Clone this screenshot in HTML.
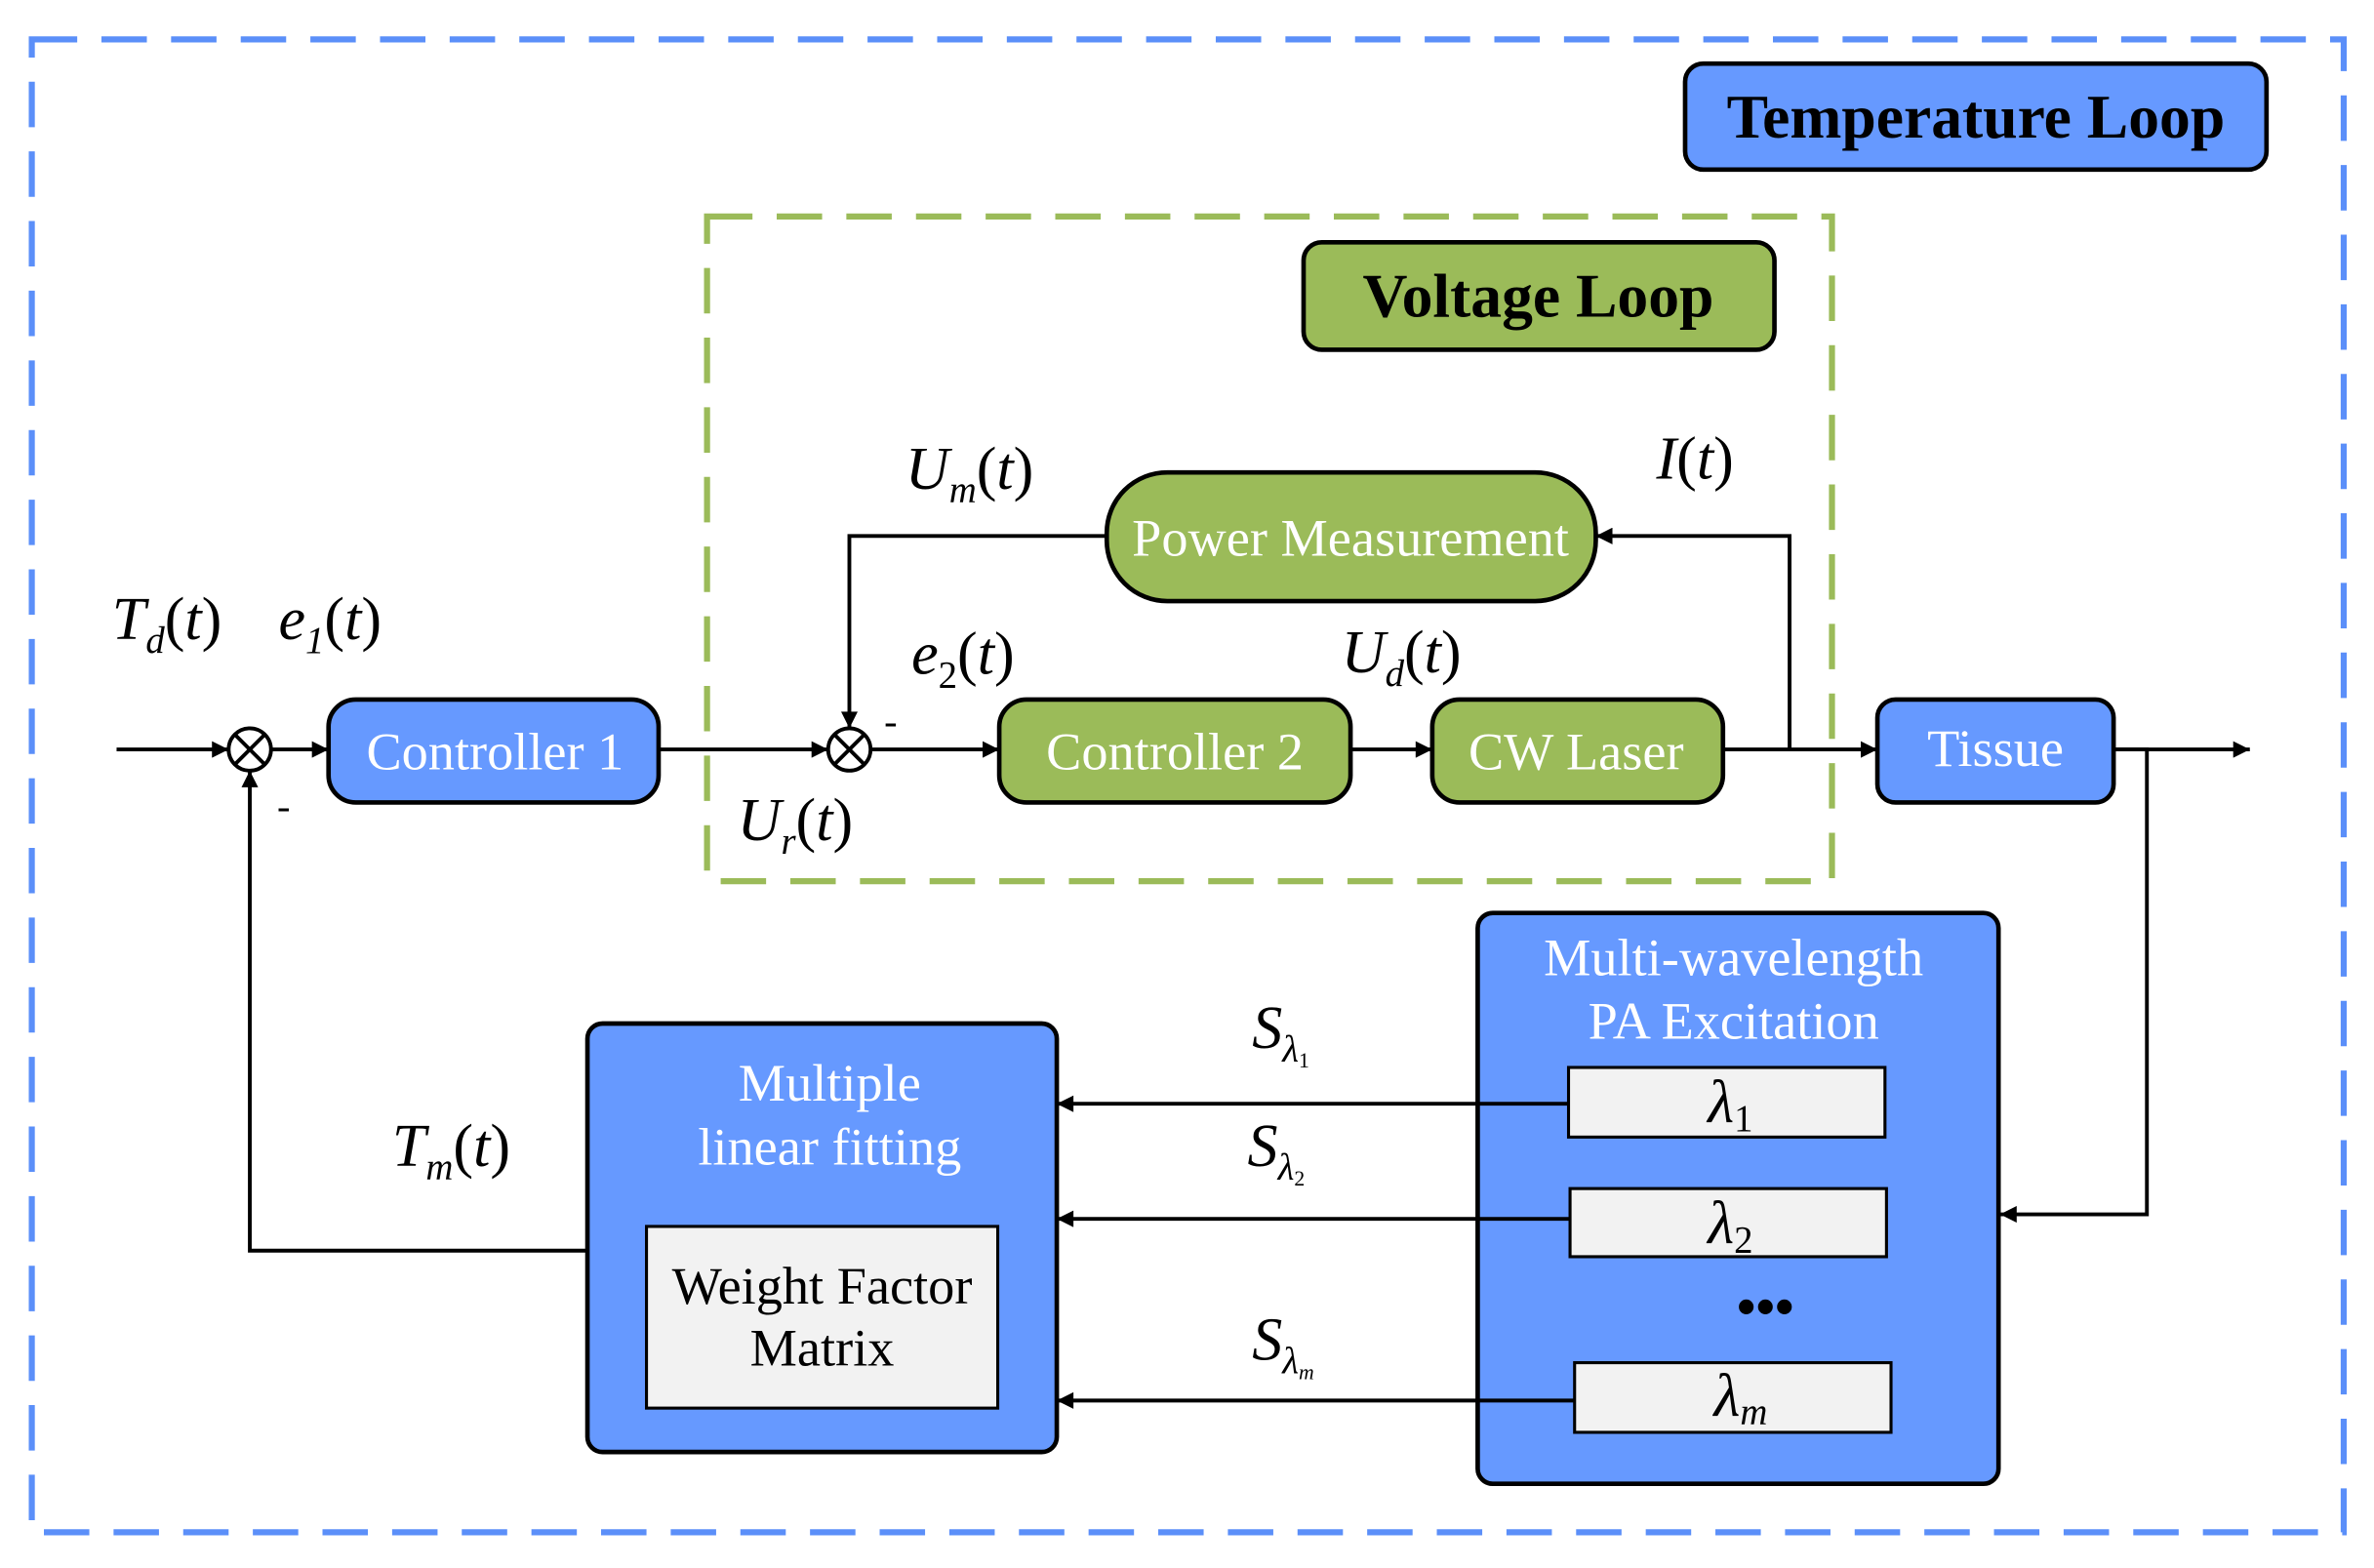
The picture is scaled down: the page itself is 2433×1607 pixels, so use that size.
<!DOCTYPE html>
<html><head><meta charset="utf-8"><style>
html,body{margin:0;padding:0;background:#fff;}
svg{display:block;}
text{font-family:"Liberation Serif",serif;}
.w{fill:#fff;font-size:35px;text-anchor:middle;}
.k{fill:#000;font-size:35px;text-anchor:middle;}
.i{fill:#000;font-size:40px;font-style:italic;}
.s{font-size:25px;}
</style></head><body>
<svg width="2433" height="1607" viewBox="0 0 1568 1035.6" preserveAspectRatio="none" xmlns="http://www.w3.org/2000/svg">
<defs>
<marker id="a" viewBox="0 0 10 10" refX="10" refY="5" markerWidth="13" markerHeight="11" orient="auto" markerUnits="userSpaceOnUse"><path d="M0,0 L10,5 L0,10 z" fill="#000"/></marker>
</defs>
<rect x="21" y="26" width="1527" height="986" fill="none" stroke="#5B8FF9" stroke-width="4" stroke-dasharray="30,16"/>
<rect x="467" y="143" width="743" height="439" fill="none" stroke="#9BBB59" stroke-width="4" stroke-dasharray="30,16"/>

<rect x="1113" y="42" width="384" height="70" rx="12" fill="#6699FF" stroke="#000" stroke-width="3"/>
<text x="1305" y="91" font-size="41" font-weight="bold" text-anchor="middle">Temperature Loop</text>
<rect x="861" y="160" width="311" height="71" rx="12" fill="#9BBB59" stroke="#000" stroke-width="3"/>
<text x="1016" y="209" font-size="41" font-weight="bold" text-anchor="middle">Voltage Loop</text>

<g stroke="#000" stroke-width="3">
<rect x="731" y="312" width="323" height="85" rx="40" fill="#9BBB59"/>
<rect x="217" y="462" width="218" height="68" rx="18" fill="#6699FF"/>
<rect x="660" y="462" width="232" height="68" rx="18" fill="#9BBB59"/>
<rect x="946" y="462" width="192" height="68" rx="18" fill="#9BBB59"/>
<rect x="1240" y="462" width="156" height="68" rx="12" fill="#6699FF"/>
<rect x="976" y="603" width="344" height="377" rx="10" fill="#6699FF"/>
<rect x="388" y="676" width="310" height="283" rx="10" fill="#6699FF"/>
<rect x="1036" y="705" width="209" height="46" fill="#F2F2F2" stroke-width="2"/>
<rect x="1037" y="785" width="209" height="45" fill="#F2F2F2" stroke-width="2"/>
<rect x="1040" y="900" width="209" height="46" fill="#F2F2F2" stroke-width="2"/>
<rect x="427" y="810" width="232" height="120" fill="#F2F2F2" stroke-width="2"/>
</g>

<text class="w" x="892" y="367">Power Measurement</text>
<text class="w" x="327" y="508">Controller 1</text>
<text class="w" x="776" y="508">Controller 2</text>
<text class="w" x="1041" y="508">CW Laser</text>
<text class="w" x="1318" y="506" font-size="29">Tissue</text>
<text class="w" x="1145" y="644">Multi-wavelength</text>
<text class="w" x="1145" y="686">PA Excitation</text>
<text class="w" x="548" y="727">Multiple</text>
<text class="w" x="548" y="769">linear fitting</text>
<text class="k" x="543" y="861">Weight Factor</text>
<text class="k" x="543" y="902">Matrix</text>
<text class="i" x="1128" y="741">λ<tspan class="s" dy="6" font-style="normal">1</tspan></text>
<text class="i" x="1128" y="821">λ<tspan class="s" dy="6" font-style="normal">2</tspan></text>
<text class="i" x="1132" y="935">λ<tspan class="s" dy="6" font-size="20">m</tspan></text>
<text x="1166" y="875" font-size="36" text-anchor="middle" font-weight="bold">•••</text>

<g stroke="#000" stroke-width="2.5" fill="#fff">
<circle cx="165" cy="495" r="14"/><path d="M155,485 L175,505 M175,485 L155,505"/>
<circle cx="561" cy="495" r="14"/><path d="M551,485 L571,505 M571,485 L551,505"/>
</g>

<g stroke="#000" stroke-width="2.5" fill="none" marker-end="url(#a)">
<path d="M77,495 H151"/>
<path d="M179,495 H217"/>
<path d="M435,495 H547"/>
<path d="M575,495 H660"/>
<path d="M892,495 H946"/>
<path d="M1138,495 H1240"/>
<path d="M1396,495 H1486"/>
<path d="M1182,495 V354 H1054"/>
<path d="M731,354 H561 V481"/>
<path d="M1396,495 H1418 V802 H1321"/>
<path d="M1036,729 H698"/>
<path d="M1037,805 H698"/>
<path d="M1040,925 H698"/>
<path d="M388,826 H165 V509"/>
</g>

<text class="i" x="74" y="422">T<tspan class="s" dy="9">d</tspan><tspan dy="-9" font-style="normal">(</tspan>t<tspan font-style="normal">)</tspan></text>
<text class="i" x="184" y="422">e<tspan class="s" dy="9">1</tspan><tspan dy="-9" font-style="normal">(</tspan>t<tspan font-style="normal">)</tspan></text>
<text class="i" x="598" y="323">U<tspan class="s" dy="9">m</tspan><tspan dy="-9" font-style="normal">(</tspan>t<tspan font-style="normal">)</tspan></text>
<text class="i" x="1094" y="316">I<tspan font-style="normal">(</tspan>t<tspan font-style="normal">)</tspan></text>
<text class="i" x="602" y="445">e<tspan class="s" dy="9" font-style="normal">2</tspan><tspan dy="-9" font-style="normal">(</tspan>t<tspan font-style="normal">)</tspan></text>
<text class="i" x="886" y="444">U<tspan class="s" dy="9">d</tspan><tspan dy="-9" font-style="normal">(</tspan>t<tspan font-style="normal">)</tspan></text>
<text class="i" x="487" y="555">U<tspan class="s" dy="9">r</tspan><tspan dy="-9" font-style="normal">(</tspan>t<tspan font-style="normal">)</tspan></text>
<text class="i" x="259" y="770">T<tspan class="s" dy="9">m</tspan><tspan dy="-9" font-style="normal">(</tspan>t<tspan font-style="normal">)</tspan></text>
<text class="i" x="827" y="692">S<tspan class="s" dy="9">λ</tspan><tspan font-size="14" dy="4" font-style="normal">1</tspan></text>
<text class="i" x="824" y="770">S<tspan class="s" dy="9">λ</tspan><tspan font-size="14" dy="4" font-style="normal">2</tspan></text>
<text class="i" x="827" y="898">S<tspan class="s" dy="9">λ</tspan><tspan font-size="14" dy="4">m</tspan></text>
<text x="183" y="541" font-size="26">-</text>
<text x="584" y="485" font-size="26">-</text>
</svg>
</body></html>
